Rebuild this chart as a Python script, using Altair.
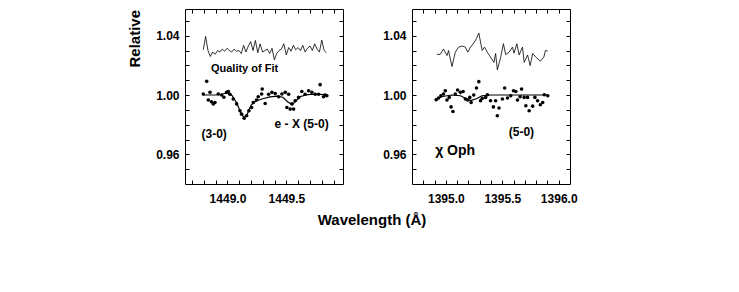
import altair as alt
import pandas as pd

FONT = "Liberation Sans"

# ---------------- data ----------------
left_pts_w = [1448.795, 1448.824, 1448.837, 1448.852, 1448.864, 1448.880, 1448.894, 1448.922, 1448.951, 1448.970,
              1448.993, 1449.007, 1449.021, 1449.049, 1449.078, 1449.106, 1449.120, 1449.142, 1449.163, 1449.182,
              1449.205, 1449.219, 1449.247, 1449.261, 1449.290, 1449.295, 1449.320, 1449.349, 1449.377, 1449.405,
              1449.434, 1449.462, 1449.490, 1449.504, 1449.519, 1449.532, 1449.547, 1449.561, 1449.575, 1449.603,
              1449.631, 1449.659, 1449.688, 1449.716, 1449.744, 1449.773, 1449.786, 1449.815, 1449.829, 1449.843]
left_pts_v = [1.0007, 1.0092, 0.9966, 1.0018, 0.9955, 0.9939, 0.9950, 1.0007, 1.0000, 0.9985,
              1.0018, 1.0024, 1.0005, 0.9973, 0.9940, 0.9894, 0.9871, 0.9844, 0.9860, 0.9894,
              0.9916, 0.9950, 0.9966, 0.9988, 1.0007, 1.0040, 0.9943, 1.0005, 1.0018, 1.0010,
              0.9988, 1.0007, 1.0018, 0.9916, 1.0005, 0.9905, 0.9940, 0.9905, 0.9961, 0.9984,
              1.0024, 1.0005, 1.0029, 1.0018, 1.0005, 1.0005, 1.0070, 0.9988, 1.0000, 0.9995]

left_fit_w = [1448.79, 1448.90, 1448.95, 1449.00, 1449.04, 1449.08, 1449.11, 1449.14, 1449.17, 1449.20, 1449.24,
              1449.30, 1449.36, 1449.42, 1449.47, 1449.51, 1449.55, 1449.58, 1449.62, 1449.68, 1449.75, 1449.84]
left_fit_v = [1.0000, 1.0000, 1.0005, 1.0015, 0.9995, 0.9945, 0.9885, 0.9848, 0.9875, 0.9930, 0.9960,
              0.9975, 0.9988, 0.9992, 0.9985, 0.9955, 0.9935, 0.9960, 0.9990, 1.0003, 1.0005, 1.0003]

left_qof_w = [1448.795, 1448.815, 1448.835, 1448.855, 1448.875, 1448.896, 1448.916, 1448.936, 1448.956, 1448.976,
              1448.996, 1449.016, 1449.036, 1449.056, 1449.076, 1449.097, 1449.117, 1449.137, 1449.157, 1449.177,
              1449.197, 1449.217, 1449.237, 1449.257, 1449.277, 1449.298, 1449.318, 1449.338, 1449.358, 1449.378,
              1449.398, 1449.418, 1449.438, 1449.458, 1449.478, 1449.499, 1449.519, 1449.539, 1449.559, 1449.579,
              1449.599, 1449.619, 1449.639, 1449.659, 1449.679, 1449.700, 1449.720, 1449.740, 1449.760, 1449.780,
              1449.800, 1449.820, 1449.840]
left_qof_v = [1.0305, 1.0395, 1.0300, 1.0260, 1.0290, 1.0275, 1.0300, 1.0290, 1.0310, 1.0295,
              1.0315, 1.0300, 1.0290, 1.0310, 1.0295, 1.0300, 1.0280, 1.0335, 1.0290, 1.0330,
              1.0360, 1.0300, 1.0368, 1.0285, 1.0345, 1.0290, 1.0300, 1.0310, 1.0280, 1.0315,
              1.0237, 1.0280, 1.0300, 1.0310, 1.0346, 1.0270, 1.0320, 1.0295, 1.0335, 1.0305,
              1.0320, 1.0300, 1.0335, 1.0290, 1.0315, 1.0330, 1.0300, 1.0345, 1.0310, 1.0290,
              1.0370, 1.0300, 1.0285]

right_pts_w = [1394.914, 1394.935, 1394.956, 1394.979, 1394.995, 1395.010, 1395.030, 1395.046, 1395.063, 1395.084,
               1395.104, 1395.129, 1395.153, 1395.173, 1395.194, 1395.212, 1395.224, 1395.247, 1395.271, 1395.292,
               1395.307, 1395.322, 1395.352, 1395.368, 1395.396, 1395.421, 1395.441, 1395.456, 1395.471, 1395.501,
               1395.521, 1395.546, 1395.575, 1395.599, 1395.620, 1395.635, 1395.658, 1395.671, 1395.694, 1395.709,
               1395.724, 1395.738, 1395.769, 1395.789, 1395.813, 1395.837, 1395.858, 1395.872, 1395.903]
right_pts_v = [0.9968, 0.9980, 0.9995, 1.0007, 1.0029, 0.9966, 0.9984, 0.9920, 0.9889, 1.0007,
               1.0034, 1.0018, 1.0024, 0.9973, 0.9966, 0.9984, 0.9950, 1.0000, 1.0047, 1.0090,
               0.9961, 0.9977, 0.9984, 1.0002, 0.9961, 0.9920, 0.9961, 0.9860, 0.9912, 0.9973,
               1.0047, 0.9980, 0.9995, 1.0029, 1.0024, 0.9966, 0.9988, 1.0040, 0.9984, 0.9928,
               0.9984, 0.9894, 0.9925, 0.9984, 0.9961, 0.9934, 0.9950, 1.0002, 0.9995]

right_fit_w = [1394.92, 1394.97, 1395.05, 1395.13, 1395.18, 1395.22, 1395.27, 1395.32, 1395.40, 1395.90]
right_fit_v = [0.9975, 0.9990, 1.0000, 0.9995, 0.9975, 0.9962, 0.9975, 0.9995, 1.0000, 1.0000]

right_qof_w = [1394.921, 1394.950, 1394.979, 1395.010, 1395.024, 1395.054, 1395.084, 1395.113, 1395.144, 1395.173,
               1395.194, 1395.218, 1395.247, 1395.271, 1395.292, 1395.322, 1395.343, 1395.367, 1395.396, 1395.426,
               1395.441, 1395.456, 1395.486, 1395.510, 1395.530, 1395.560, 1395.590, 1395.604, 1395.629, 1395.649,
               1395.679, 1395.694, 1395.724, 1395.747, 1395.769, 1395.798, 1395.837, 1395.868, 1395.882, 1395.903]
right_qof_v = [1.0273, 1.0275, 1.0310, 1.0266, 1.0300, 1.0192, 1.0289, 1.0323, 1.0330, 1.0323,
               1.0289, 1.0323, 1.0350, 1.0380, 1.0418, 1.0300, 1.0323, 1.0289, 1.0255, 1.0220,
               1.0280, 1.0170, 1.0255, 1.0346, 1.0273, 1.0289, 1.0323, 1.0282, 1.0346, 1.0270,
               1.0323, 1.0220, 1.0270, 1.0199, 1.0280, 1.0255, 1.0228, 1.0255, 1.0300, 1.0296]

left_text = ["Quality of Fit", "e - X (5-0)", "(3-0)"]
left_text_w = [1448.86, 1449.40, 1448.78]
left_text_v = [1.0178, 0.9805, 0.9740]
left_text_size = [11, 12, 12]

right_text = ["(5-0)", "χ Oph"]
right_text_w = [1395.557, 1394.905]
right_text_v = [0.9753, 0.9625]
right_text_size = [12, 14]

y_domain = [0.94, 1.058]
y_label_values = [0.96, 1.00, 1.04]
y_tick_values = [0.95, 0.96, 0.97, 0.98, 0.99, 1.00, 1.01, 1.02, 1.03, 1.04, 1.05]

left_x_domain = [1448.64, 1449.98]
left_x_label_values = [1449.0, 1449.5]
left_x_tick_values = [1448.7, 1448.8, 1448.9, 1449.0, 1449.1, 1449.2, 1449.3, 1449.4, 1449.5, 1449.6,
                      1449.7, 1449.8, 1449.9]

right_x_domain = [1394.7, 1396.1]
right_x_label_values = [1395.0, 1395.5, 1396.0]
right_x_tick_values = [1394.8, 1394.9, 1395.0, 1395.1, 1395.2, 1395.3, 1395.4, 1395.5, 1395.6, 1395.7,
                       1395.8, 1395.9, 1396.0]

Y_TITLE = "Relative"


def tick_axis(orient, values):
    return alt.Axis(orient=orient, values=values, labels=False, domain=False, grid=False,
                    ticks=True, tickSize=4, tickWidth=1, tickColor="black", offset=-4, title=None)


def panel(pts_w, pts_v, fit_w, fit_v, qof_w, qof_v, xdom, xlab, xticks,
          txt, txt_w, txt_v, txt_size, with_title):
    xs = alt.Scale(domain=xdom, nice=False, zero=False)
    ys = alt.Scale(domain=y_domain, nice=False, zero=False)
    pts = pd.DataFrame({"w": pts_w, "v": pts_v})
    fit = pd.DataFrame({"w": fit_w, "v": fit_v})
    qof = pd.DataFrame({"w": qof_w, "v": qof_v})
    lab = pd.DataFrame({"w": txt_w, "v": txt_v, "t": txt, "s": txt_size})

    label_x = alt.Axis(orient="bottom", values=xlab, format=".1f", ticks=False, domain=False, grid=False,
                       labelPadding=9, labelFontSize=12, labelFontWeight="bold", labelFont=FONT,
                       labelColor="black", title=None)
    y_kwargs = dict(orient="left", values=y_label_values, format=".2f", ticks=False, domain=False, grid=False,
                    labelPadding=6, labelFontSize=12, labelFontWeight="bold", labelFont=FONT,
                    labelColor="black")
    if with_title:
        label_y = alt.Axis(title=Y_TITLE, titleFont=FONT, titleFontSize=15, titleFontWeight="bold",
                           titleColor="black", titleAngle=270, titleAlign="left", titleBaseline="alphabetic",
                           titleX=-46, titleY=58, **y_kwargs)
    else:
        label_y = alt.Axis(title=None, **y_kwargs)

    a = alt.Chart(pts).mark_circle(size=13, color="black", opacity=1).encode(
        x=alt.X("w:Q", scale=xs, axis=label_x),
        y=alt.Y("v:Q", scale=ys, axis=label_y),
    )
    b = alt.Chart(fit).mark_line(color="black", strokeWidth=1.2).encode(
        x=alt.X("w:Q", scale=xs, axis=tick_axis("bottom", xticks)),
        y=alt.Y("v:Q", scale=ys, axis=tick_axis("left", y_tick_values)),
    )
    c = alt.Chart(qof).mark_line(color="black", strokeWidth=0.8).encode(
        x=alt.X("w:Q", scale=xs, axis=tick_axis("top", xticks)),
        y=alt.Y("v:Q", scale=ys, axis=tick_axis("right", y_tick_values)),
    )
    d = alt.Chart(lab).mark_text(align="left", baseline="middle", fontWeight="bold", font=FONT,
                                 color="black").encode(
        x=alt.X("w:Q", scale=xs, axis=None),
        y=alt.Y("v:Q", scale=ys, axis=None),
        text="t:N",
        size=alt.Size("s:Q", scale=None, legend=None),
    )
    return alt.layer(a, b, c, d).resolve_axis(x="independent", y="independent").properties(
        width=158, height=175)


left = panel(left_pts_w, left_pts_v, left_fit_w, left_fit_v, left_qof_w, left_qof_v,
             left_x_domain, left_x_label_values, left_x_tick_values,
             left_text, left_text_w, left_text_v, left_text_size, True)
right = panel(right_pts_w, right_pts_v, right_fit_w, right_fit_v, right_qof_w, right_qof_v,
              right_x_domain, right_x_label_values, right_x_tick_values,
              right_text, right_text_w, right_text_v, right_text_size, False)

chart = alt.hconcat(left, right, spacing=38).properties(
    title=alt.TitleParams("Wavelength (Å)", orient="bottom", anchor="middle", fontSize=15,
                          fontWeight="bold", font=FONT, color="black", offset=8, dx=20),
    padding={"top": 0, "left": 118, "right": 5, "bottom": 5},
    background="white",
).configure_view(stroke="black", strokeWidth=1)

chart.save("out.html", embed_options={"renderer": "svg", "actions": False})
